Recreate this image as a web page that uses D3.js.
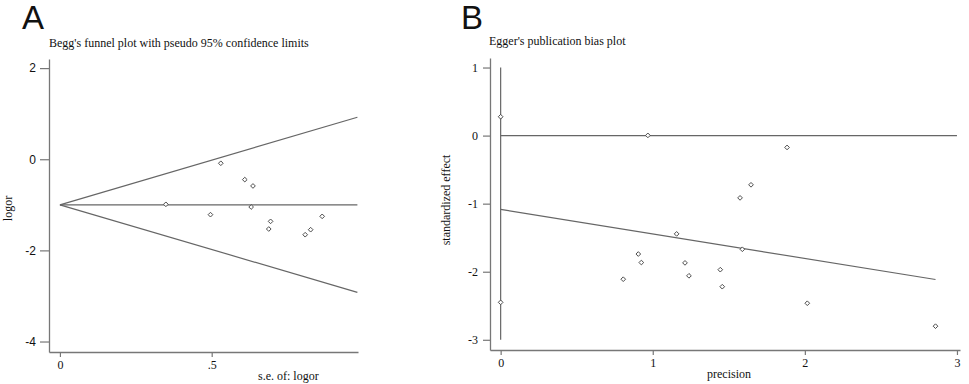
<!DOCTYPE html>
<html><head><meta charset="utf-8">
<script src="https://cdn.jsdelivr.net/npm/d3@7"></script>
<style>
html,body{margin:0;padding:0;background:#fff;}
svg{display:block;}
</style></head>
<body>
<svg id="chart" width="969" height="384"></svg>
<script>
// ---------- Panel A: Begg's funnel plot ----------
const beggSE    = [0.349, 0.496, 0.530, 0.609, 0.636, 0.630, 0.694, 0.688, 0.864, 0.826, 0.808];
const beggLogOR = [-0.989, -1.216, -0.088, -0.447, -0.586, -1.048, -1.363, -1.531, -1.253, -1.546, -1.656];
const beggPooled = -1.0;
const beggSEMax = 0.98;
const beggYTicks = [2, 0, -2, -4];
const beggXTicks = [0, 0.5];
const beggXTickLabels = ["0", ".5"];

// ---------- Panel B: Egger's publication bias plot ----------
const eggerPrecision = [0, 0.968, 1.883, 1.646, 1.574, 1.157, 1.589, 0.905, 0.925, 1.212, 0.806, 1.238, 1.444, 1.457, 2.016, 2.859, 0];
const eggerStdEffect = [0.277, 0.003, -0.174, -0.723, -0.915, -1.444, -1.67, -1.74, -1.865, -1.87, -2.11, -2.06, -1.97, -2.22, -2.463, -2.80, -2.45];
const eggerIntercept = -1.085;
const eggerSlope = -0.36;
const eggerInterceptCI = [-3.0, 1.0];
const eggerYTicks = [1, 0, -1, -2, -3];
const eggerXTicks = [0, 1, 2, 3];

const svg = d3.select("#chart");
const lineCol = "#666";
const axisCol = "#777";
const serif = "'Liberation Serif','Times New Roman',serif";
const sans = "'Liberation Sans',Arial,sans-serif";
const plain = d => String(d);

function diamond(g, xs, ys, xSc, ySc){
  g.selectAll("path.pt").data(xs.map((x,i)=>[x,ys[i]])).join("path")
    .attr("class","pt")
    .attr("d", d3.symbol().type(d3.symbolSquare).size(11))
    .attr("transform", d=>`translate(${xSc(d[0])},${ySc(d[1])}) rotate(45)`)
    .attr("fill","#fff").attr("stroke","#444").attr("stroke-width",0.9);
}
function styleAxis(g, font, size){
  g.select(".domain").attr("stroke", axisCol).attr("stroke-width",1.3);
  g.selectAll(".tick line").attr("stroke", axisCol).attr("stroke-width",1.2);
  g.selectAll(".tick text").attr("fill","#111").style("font-family",font).style("font-size",size+"px");
}

// ----- Panel A -----
const xA = d3.scaleLinear().domain([-0.036, 0.982]).range([49, 358]);
const yA = d3.scaleLinear().domain([2.2, -4.23]).range([59, 352]);
const gA = svg.append("g");

gA.append("text").attr("x",22).attr("y",29).text("A")
  .style("font-family",sans).style("font-size","33px").attr("fill","#111");
gA.append("text").attr("x",49).attr("y",46.5).text("Begg's funnel plot with pseudo 95% confidence limits")
  .style("font-family",serif).style("font-size","12px").attr("fill","#111");

const axAy = gA.append("g").attr("transform",`translate(${xA.range()[0]},0)`)
  .call(d3.axisLeft(yA).tickValues(beggYTicks).tickSize(9).tickSizeOuter(0).tickPadding(4).tickFormat(plain));
styleAxis(axAy, sans, 12);
const axAx = gA.append("g").attr("transform",`translate(0,${yA.range()[1]})`)
  .call(d3.axisBottom(xA).tickValues(beggXTicks).tickSize(5).tickSizeOuter(0).tickPadding(3)
  .tickFormat((d,i)=>beggXTickLabels[i]));
styleAxis(axAx, serif, 12);

// funnel lines
const funnel = [
  [[0,beggPooled],[beggSEMax,beggPooled]],
  [[0,beggPooled],[beggSEMax,beggPooled+1.96*beggSEMax]],
  [[0,beggPooled],[beggSEMax,beggPooled-1.96*beggSEMax]]
];
const lnA = d3.line().x(d=>xA(d[0])).y(d=>yA(d[1]));
gA.selectAll("path.fl").data(funnel).join("path").attr("class","fl")
  .attr("d", lnA).attr("fill","none").attr("stroke",lineCol).attr("stroke-width",1.2);
diamond(gA, beggSE, beggLogOR, xA, yA);

gA.append("text").attr("x",258).attr("y",380).text("s.e. of: logor")
  .style("font-family",serif).style("font-size","12px").attr("fill","#111");
gA.append("text").attr("transform",`translate(12,${(yA.range()[0]+yA.range()[1])/2+3}) rotate(-90)`)
  .attr("text-anchor","middle").text("logor")
  .style("font-family",serif).style("font-size","12px").attr("fill","#111");

// ----- Panel B -----
const xB = d3.scaleLinear().domain([-0.07, 3.02]).range([490, 960]);
const yB = d3.scaleLinear().domain([1.14, -3.15]).range([58, 350]);
const gB = svg.append("g");

gB.append("text").attr("x",461).attr("y",29).text("B")
  .style("font-family",sans).style("font-size","33px").attr("fill","#111");
gB.append("text").attr("x",489).attr("y",45).text("Egger's publication bias plot")
  .style("font-family",serif).style("font-size","12px").attr("fill","#111");

const axBy = gB.append("g").attr("transform",`translate(${xB.range()[0]},0)`)
  .call(d3.axisLeft(yB).tickValues(eggerYTicks).tickSize(7).tickSizeOuter(0).tickPadding(5).tickFormat(plain));
styleAxis(axBy, serif, 12);
const axBx = gB.append("g").attr("transform",`translate(0,${yB.range()[1]})`)
  .call(d3.axisBottom(xB).tickValues(eggerXTicks).tickSize(5).tickSizeOuter(0).tickPadding(3).tickFormat(plain));
styleAxis(axBx, serif, 12);

const lnB = d3.line().x(d=>xB(d[0])).y(d=>yB(d[1]));
const maxPrec = d3.max(eggerPrecision);
const eggerLines = [
  [[0,eggerInterceptCI[0]],[0,eggerInterceptCI[1]]],
  [[0,0],[eggerXTicks[eggerXTicks.length-1],0]],
  [[0,eggerIntercept],[maxPrec,eggerIntercept+eggerSlope*maxPrec]]
];
gB.selectAll("path.el").data(eggerLines).join("path").attr("class","el")
  .attr("d", lnB).attr("fill","none").attr("stroke",lineCol).attr("stroke-width",1.2);
diamond(gB, eggerPrecision, eggerStdEffect, xB, yB);

gB.append("text").attr("x",(xB.range()[0]+xB.range()[1])/2+4).attr("y",378).attr("text-anchor","middle").text("precision")
  .style("font-family",serif).style("font-size","12px").attr("fill","#111");
gB.append("text").attr("transform",`translate(450,${(yB.range()[0]+yB.range()[1])/2-4}) rotate(-90)`)
  .attr("text-anchor","middle").text("standardized effect")
  .style("font-family",serif).style("font-size","12px").attr("fill","#111");
</script>
</body></html>
